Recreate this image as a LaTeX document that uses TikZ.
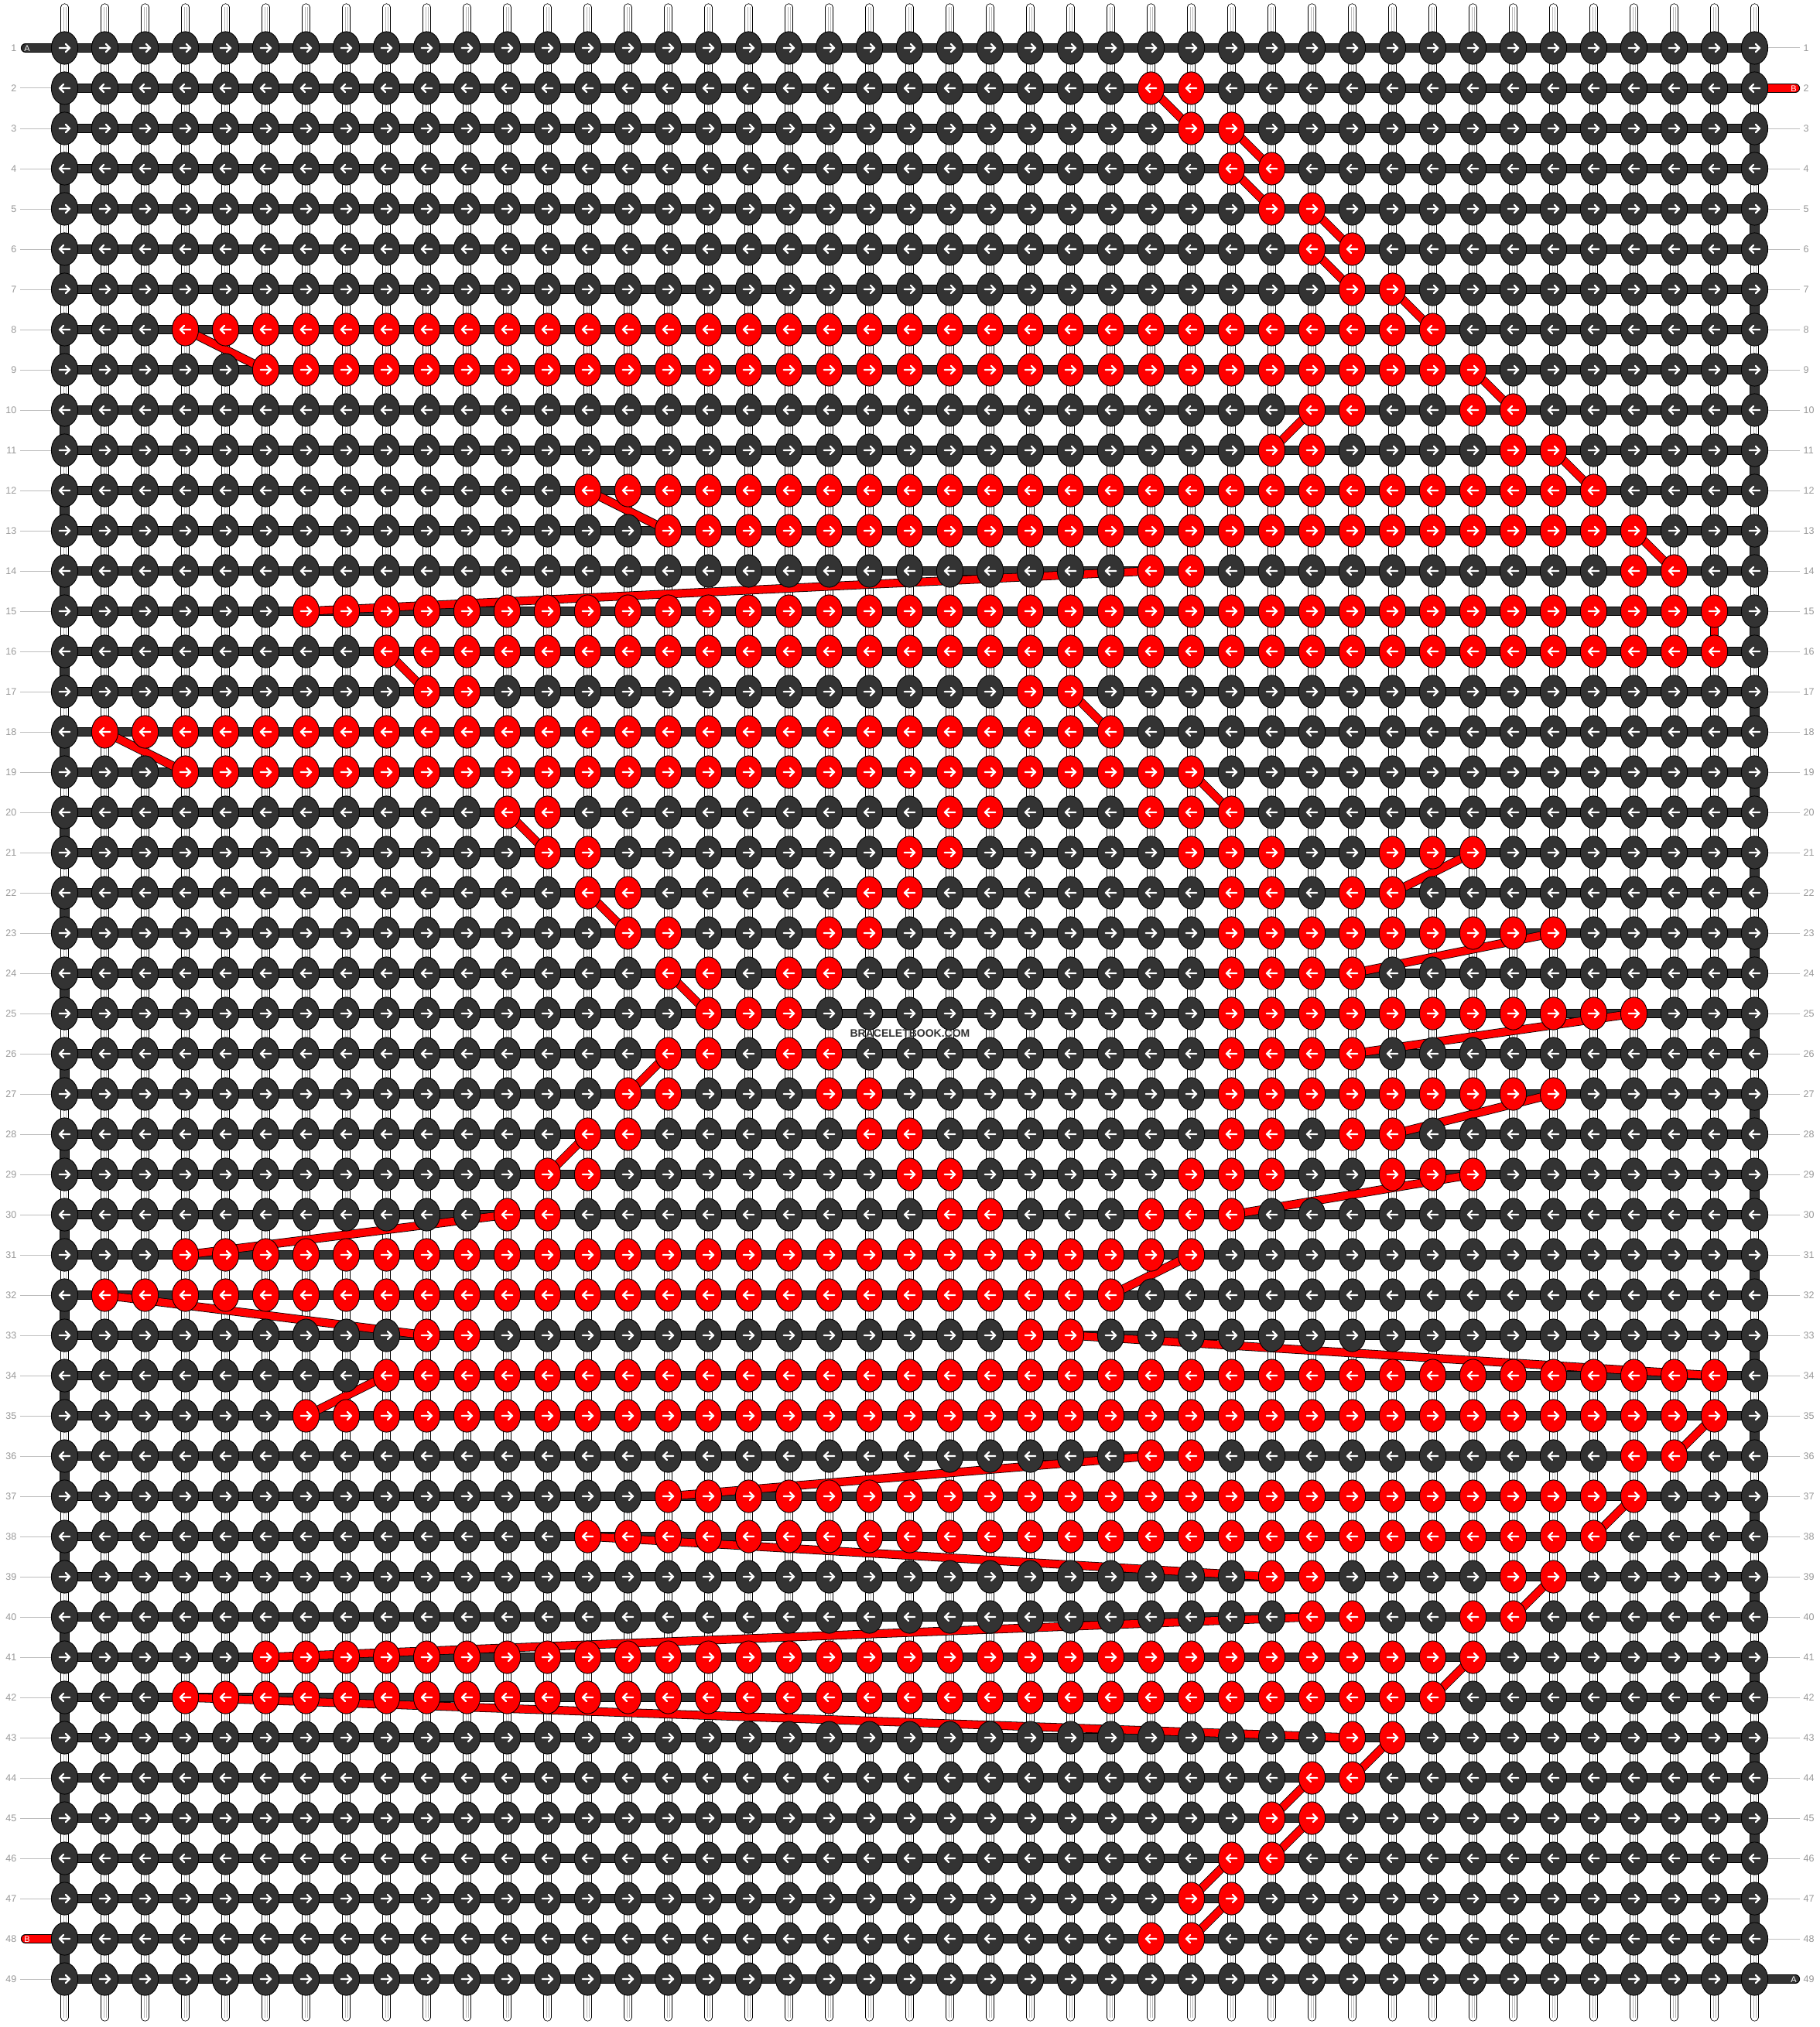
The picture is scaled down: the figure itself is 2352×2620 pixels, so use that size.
\documentclass[tikz,border=0pt]{standalone}
\usepackage{fontspec}
\setmainfont{Liberation Sans}
\usetikzlibrary{shapes.geometric}
\definecolor{kdark}{HTML}{333333}
\definecolor{kred}{HTML}{FF0000}
\definecolor{lblgray}{HTML}{999999}
\definecolor{lblline}{HTML}{BDBDBD}
\pgfdeclarelayer{threads}
\pgfdeclarelayer{bands}
\pgfdeclarelayer{conn}
\pgfdeclarelayer{top}
\pgfsetlayers{threads,bands,conn,main,top}
\newsavebox\kDR
\newsavebox\kDL
\newsavebox\kRR
\newsavebox\kRL
\newcommand\mkknot[3]{\sbox#1{\begin{pgfpicture}%
  \pgfpathrectangle{\pgfpoint{-17.5pt}{-21.5pt}}{\pgfpoint{35pt}{43pt}}%
  \pgfusepath{use as bounding box}%
  \pgfsetlinewidth{0.9pt}%
  \pgfsetfillcolor{#2}\pgfsetstrokecolor{black}%
  \pgfpathellipse{\pgfpointorigin}{\pgfpoint{17.1pt}{0pt}}{\pgfpoint{0pt}{21.1pt}}%
  \pgfusepath{fill,stroke}%
  \pgfsetstrokecolor{white}\pgfsetlinewidth{2.3pt}\pgfsetroundcap\pgfsetroundjoin
  \pgfpathmoveto{\pgfpoint{#3*(-6.8pt)}{0pt}}%
  \pgfpathlineto{\pgfpoint{#3*6.2pt}{0pt}}%
  \pgfpathmoveto{\pgfpoint{#3*1.4pt}{5pt}}%
  \pgfpathlineto{\pgfpoint{#3*6.6pt}{0pt}}%
  \pgfpathlineto{\pgfpoint{#3*1.4pt}{-5pt}}%
  \pgfusepath{stroke}%
\end{pgfpicture}}}
\begin{document}
\mkknot{\kDR}{kdark}{1}%
\mkknot{\kDL}{kdark}{-1}%
\mkknot{\kRR}{kred}{1}%
\mkknot{\kRL}{kred}{-1}%
\begin{tikzpicture}[x=1pt,y=-1pt,
  knot/.style={inner sep=0pt, outer sep=0pt, anchor=center},
  band/.style={draw=black, line width=0.9pt, double=kdark, double distance=10.4pt},
  redband/.style={draw=black, line width=0.9pt, double=kred, double distance=10.4pt},
  rconn/.style={draw=black, line width=0.8pt, double=kred, double distance=9.6pt},
  thr/.style={draw=black, line width=0.8pt, double=white, double distance=8.6pt, line cap=round},
  thrin/.style={draw=black!28, line width=0.5pt},
  lbl/.style={inner sep=0pt, text=lblgray, font=\fontsize{12.5}{12.5}\selectfont},
  lline/.style={draw=lblline, line width=1pt},
  stubtxt/.style={inner sep=0pt, text=white, font=\fontsize{11}{11}\selectfont}
]
\useasboundingbox (0,0) rectangle (2352,2620);
% red knot map
\foreach \qr/\qa/\qb in {2/28/29, 3/29/30, 4/30/31, 5/31/32, 6/32/33, 7/33/34, 8/4/35, 9/6/36,
  10/32/33, 10/36/37, 11/31/32, 11/37/38, 12/14/39, 13/16/40, 14/28/29, 14/40/41, 15/7/42, 16/9/42,
  17/10/11, 17/25/26, 18/2/27, 19/4/29, 20/12/13, 20/23/24, 20/28/30, 21/13/14, 21/22/23, 21/29/31,
  21/34/36, 22/14/15, 22/21/22, 22/30/31, 22/33/34, 23/15/16, 23/20/21, 23/30/38, 24/16/17, 24/19/20,
  24/30/33, 25/17/19, 25/30/40, 26/16/17, 26/19/20, 26/30/33, 27/15/16, 27/20/21, 27/30/38, 28/14/15,
  28/21/22, 28/30/31, 28/33/34, 29/13/14, 29/22/23, 29/29/31, 29/34/36, 30/12/13, 30/23/24, 30/28/30,
  31/4/29, 32/2/27, 33/10/11, 33/25/26, 34/9/42, 35/7/42, 36/28/29, 36/40/41, 37/16/40, 38/14/39,
  39/31/32, 39/37/38, 40/32/33, 40/36/37, 41/6/36, 42/4/35, 43/33/34, 44/32/33, 45/31/32, 46/30/31,
  47/29/30, 48/28/29}{
  \foreach \ci in {\qa,...,\qb}{\expandafter\gdef\csname red@\qr @\ci\endcsname{}}
}
% knots
\foreach \ri in {1,...,49}{
  \foreach \ci in {1,...,43}{
    \ifodd\ri\relax
      \ifcsname red@\ri @\ci\endcsname\let\kb\kRR\else\let\kb\kDR\fi
    \else
      \ifcsname red@\ri @\ci\endcsname\let\kb\kRL\else\let\kb\kDL\fi
    \fi
    \node[knot] (k-\ri-\ci) at ({83.5+52*(\ci-1)},{62+52*(\ri-1)}) {\usebox{\kb}};
  }
}
% vertical threads
\begin{pgfonlayer}{threads}
\fill[white] (0,0) rectangle (2352,2620);
\foreach \ci in {1,...,43}{
  \coordinate (t\ci) at ({83.5+52*(\ci-1)},9.5);
  \coordinate (b\ci) at ({83.5+52*(\ci-1)},2607.5);
  \draw[thr] (t\ci) -- (b\ci);
  \draw[thrin] ([xshift=-1.5pt]t\ci) -- ([xshift=-1.5pt]b\ci);
  \draw[thrin] ([xshift=1.5pt]t\ci) -- ([xshift=1.5pt]b\ci);
}
\end{pgfonlayer}
% background thread (rows and turns) and stubs
\begin{pgfonlayer}{bands}
\foreach \ri in {1,...,49}{\draw[band] (k-\ri-1.center) -- (k-\ri-43.center);}
\foreach \ri in {2,4,...,48}{\pgfmathtruncatemacro\rn{\ri+1}\draw[band] (k-\ri-1.center) -- (k-\rn-1.center);}
\foreach \ri in {1,3,...,47}{\pgfmathtruncatemacro\rn{\ri+1}\draw[band] (k-\ri-43.center) -- (k-\rn-43.center);}
\coordinate (sA1) at (33,62);
\coordinate (sA2) at (2320,2558);
\coordinate (sB1) at (2320,114);
\coordinate (sB2) at (33,2506);
\draw[band,line cap=round] (sA1) -- (k-1-1.center);
\draw[band,line cap=round] (k-49-43.center) -- (sA2);
\draw[redband,line cap=round] (k-2-43.center) -- (sB1);
\draw[redband,line cap=round] (sB2) -- (k-48-1.center);
\end{pgfonlayer}
% red thread connectors
\begin{pgfonlayer}{conn}
\foreach \ua/\ub/\uc/\ud in {2/28/3/29, 3/30/4/31, 4/30/5/31, 5/32/6/33, 6/32/7/33, 7/34/8/35,
  8/4/9/6, 9/36/10/37, 10/32/11/31, 11/38/12/39, 12/14/13/16, 13/40/14/41, 14/28/15/7, 15/42/16/42,
  16/9/17/10, 17/26/18/27, 18/2/19/4, 19/29/20/30, 20/12/21/13, 21/36/22/34, 22/14/23/15,
  23/38/24/33, 24/16/25/17, 25/40/26/33, 26/16/27/15, 27/38/28/34, 28/14/29/13, 29/36/30/30,
  30/12/31/4, 31/29/32/27, 32/2/33/10, 33/26/34/42, 34/9/35/7, 35/42/36/41, 36/28/37/16,
  37/40/38/39, 38/14/39/31, 39/38/40/37, 40/32/41/6, 41/36/42/35, 42/4/43/33, 43/34/44/33,
  44/32/45/31, 45/32/46/31, 46/30/47/29, 47/30/48/29}{
  \draw[rconn] (k-\ua-\ub.center) -- (k-\uc-\ud.center);
}
\end{pgfonlayer}
% stub letters
\node[stubtxt] (lA1) at (35,62.5) {A};
\node[stubtxt] (lB1) at (2318,114.5) {B};
\node[stubtxt] (lB2) at (35,2506.5) {B};
\node[stubtxt] (lA2) at (2318,2558.5) {A};
% row numbers
\foreach \ri in {1,...,49}{
  \node[lbl,anchor=east] (ln\ri) at (21.5,{62+52*(\ri-1)}) {\ri};
  \node[lbl,anchor=west] (rn\ri) at (2330.5,{62+52*(\ri-1)}) {\ri};
}
\foreach \ri in {2,...,47,49}{\draw[lline] ([xshift=4.5pt]ln\ri.east) -- (k-\ri-1.west);}
\foreach \ri in {1,3,4,...,48}{\draw[lline] (k-\ri-43.east) -- ([xshift=-4.5pt]rn\ri.west);}
% watermark
\begin{pgfonlayer}{top}
\node[inner sep=0pt, text=kdark, font=\bfseries\fontsize{14}{14}\selectfont] (wm) at (1176,1336) {BRACELETBOOK.COM};
\end{pgfonlayer}
\end{tikzpicture}
\end{document}
